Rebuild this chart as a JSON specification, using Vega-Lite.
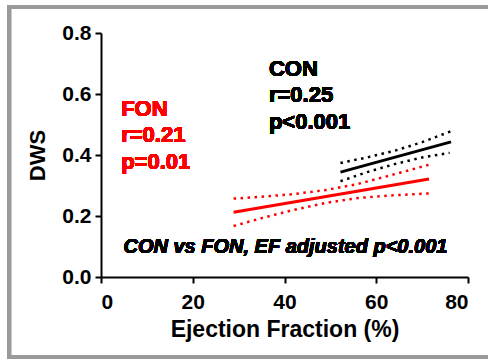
{
  "$schema": "https://vega.github.io/schema/vega-lite/v6.json",
  "usermeta": {"embedOptions": {"actions": false}},
  "width": 367,
  "height": 244,
  "autosize": "none",
  "padding": {"left": 101, "top": 33, "right": 20, "bottom": 82},
  "background": "white",
  "config": {
    "view": {"stroke": null},
    "font": "Liberation Sans",
    "axis": {
      "domainColor": "black", "domainWidth": 2,
      "tickColor": "black", "tickWidth": 2, "tickSize": 6,
      "labelFont": "Liberation Sans", "labelFontWeight": "bold", "labelFontSize": 21, "labelColor": "black",
      "titleFont": "Liberation Sans", "titleFontWeight": "bold", "titleColor": "black",
      "grid": false
    }
  },
  "data": {
    "values": [
      {"group": "FON", "line": "FON fit", "kind": "fit", "ef": 28.9, "dws": 0.212},
      {"group": "FON", "line": "FON fit", "kind": "fit", "ef": 71.5, "dws": 0.321},
      {"group": "FON", "line": "FON upper", "kind": "ci", "ef": 28.9, "dws": 0.257},
      {"group": "FON", "line": "FON upper", "kind": "ci", "ef": 35, "dws": 0.263},
      {"group": "FON", "line": "FON upper", "kind": "ci", "ef": 42, "dws": 0.272},
      {"group": "FON", "line": "FON upper", "kind": "ci", "ef": 49, "dws": 0.285},
      {"group": "FON", "line": "FON upper", "kind": "ci", "ef": 56, "dws": 0.305},
      {"group": "FON", "line": "FON upper", "kind": "ci", "ef": 63, "dws": 0.333},
      {"group": "FON", "line": "FON upper", "kind": "ci", "ef": 71.5, "dws": 0.368},
      {"group": "FON", "line": "FON lower", "kind": "ci", "ef": 28.9, "dws": 0.167},
      {"group": "FON", "line": "FON lower", "kind": "ci", "ef": 35, "dws": 0.193},
      {"group": "FON", "line": "FON lower", "kind": "ci", "ef": 42, "dws": 0.220},
      {"group": "FON", "line": "FON lower", "kind": "ci", "ef": 49, "dws": 0.243},
      {"group": "FON", "line": "FON lower", "kind": "ci", "ef": 56, "dws": 0.259},
      {"group": "FON", "line": "FON lower", "kind": "ci", "ef": 63, "dws": 0.267},
      {"group": "FON", "line": "FON lower", "kind": "ci", "ef": 71.5, "dws": 0.274},
      {"group": "CON", "line": "CON fit", "kind": "fit", "ef": 52.2, "dws": 0.344},
      {"group": "CON", "line": "CON fit", "kind": "fit", "ef": 76.3, "dws": 0.443},
      {"group": "CON", "line": "CON upper", "kind": "ci", "ef": 52.2, "dws": 0.374},
      {"group": "CON", "line": "CON upper", "kind": "ci", "ef": 58, "dws": 0.392},
      {"group": "CON", "line": "CON upper", "kind": "ci", "ef": 64, "dws": 0.414},
      {"group": "CON", "line": "CON upper", "kind": "ci", "ef": 70, "dws": 0.442},
      {"group": "CON", "line": "CON upper", "kind": "ci", "ef": 76.3, "dws": 0.478},
      {"group": "CON", "line": "CON lower", "kind": "ci", "ef": 52.2, "dws": 0.314},
      {"group": "CON", "line": "CON lower", "kind": "ci", "ef": 58, "dws": 0.344},
      {"group": "CON", "line": "CON lower", "kind": "ci", "ef": 64, "dws": 0.370},
      {"group": "CON", "line": "CON lower", "kind": "ci", "ef": 70, "dws": 0.392},
      {"group": "CON", "line": "CON lower", "kind": "ci", "ef": 76, "dws": 0.407}
    ]
  },
  "encoding": {
    "x": {
      "field": "ef", "type": "quantitative",
      "scale": {"domain": [0, 80], "nice": false, "zero": false},
      "axis": {"values": [0, 20, 40, 60, 80], "title": "Ejection Fraction (%)", "titleFontSize": 23, "labelPadding": 8, "titlePadding": 6}
    },
    "y": {
      "field": "dws", "type": "quantitative",
      "scale": {"domain": [0, 0.8], "nice": false, "zero": false},
      "axis": {"values": [0, 0.2, 0.4, 0.6, 0.8], "format": ".1f", "title": "DWS", "titleFontSize": 22, "labelPadding": 4, "titlePadding": 12}
    }
  },
  "layer": [
    {
      "mark": {"type": "rule", "stroke": "#9a9a9a", "strokeWidth": 4, "strokeCap": "butt", "clip": false},
      "encoding": {
        "x": {"datum": -20.05, "type": "quantitative"},
        "x2": {"datum": 84.3},
        "y": {"datum": 0.885, "type": "quantitative"}
      }
    },
    {
      "mark": {"type": "rule", "stroke": "#9a9a9a", "strokeWidth": 4, "strokeCap": "butt", "clip": false},
      "encoding": {
        "x": {"datum": -20.05, "type": "quantitative"},
        "x2": {"datum": 84.3},
        "y": {"datum": -0.262, "type": "quantitative"}
      }
    },
    {
      "mark": {"type": "rule", "stroke": "#9a9a9a", "strokeWidth": 4, "strokeCap": "square", "clip": false},
      "encoding": {
        "x": {"datum": -20.05, "type": "quantitative"},
        "y": {"datum": 0.885, "type": "quantitative"},
        "y2": {"datum": -0.262}
      }
    },
    {
      "transform": [{"filter": "datum.kind === 'fit'"}],
      "mark": {"type": "line", "strokeWidth": 3},
      "encoding": {
        "detail": {"field": "line"},
        "color": {"field": "group", "type": "nominal", "scale": {"domain": ["CON", "FON"], "range": ["#000000", "#ff0000"]}, "legend": null}
      }
    },
    {
      "transform": [{"filter": "datum.kind === 'ci'"}],
      "mark": {"type": "line", "strokeWidth": 2.5, "strokeDash": [2.5, 4.5]},
      "encoding": {
        "detail": {"field": "line"},
        "color": {"field": "group", "type": "nominal", "scale": {"domain": ["CON", "FON"], "range": ["#000000", "#ff0000"]}, "legend": null}
      }
    },
    {
      "mark": {"type": "text", "align": "left", "baseline": "alphabetic", "fontSize": 22, "fontWeight": "bold", "fill": "#ff0000", "stroke": null, "lineHeight": 26.7},
      "encoding": {
        "x": {"datum": 4.4, "type": "quantitative"},
        "y": {"datum": 0.529, "type": "quantitative"},
        "text": {"value": ["FON", "r=0.21", "p=0.01"]}
      }
    },
    {
      "mark": {"type": "text", "align": "left", "baseline": "alphabetic", "fontSize": 22, "fontWeight": "bold", "fill": "#000000", "stroke": null, "lineHeight": 26.7},
      "encoding": {
        "x": {"datum": 36.6, "type": "quantitative"},
        "y": {"datum": 0.660, "type": "quantitative"},
        "text": {"value": ["CON", "r=0.25", "p<0.001"]}
      }
    },
    {
      "mark": {"type": "text", "align": "center", "baseline": "alphabetic", "fontSize": 20, "fontWeight": "bold", "fontStyle": "italic", "fill": "#000000", "stroke": null},
      "encoding": {
        "x": {"datum": 40.2, "type": "quantitative"},
        "y": {"datum": 0.080, "type": "quantitative"},
        "text": {"value": "CON vs FON, EF adjusted p<0.001"}
      }
    }
  ]
}
